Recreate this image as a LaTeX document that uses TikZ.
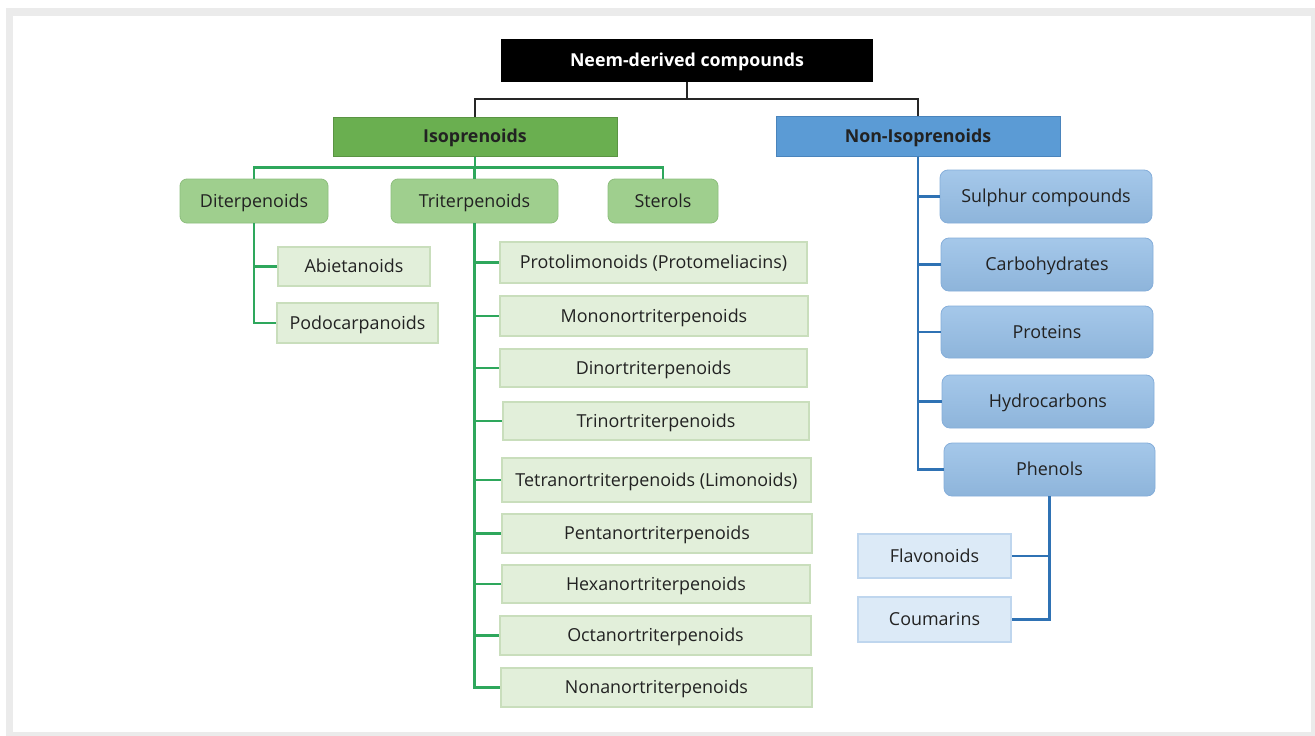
\documentclass[tikz,border=0pt]{standalone}
\usepackage{fontspec}
\setmainfont{Open Sans}
\definecolor{frame}{HTML}{EBEBEB}
\definecolor{txt}{HTML}{222222}
\definecolor{isofill}{HTML}{6AAF50}
\definecolor{isodraw}{HTML}{5A9443}
\definecolor{nonfill}{HTML}{5B9BD5}
\definecolor{nondraw}{HTML}{4A84BC}
\definecolor{gmid}{HTML}{9FCF8E}
\definecolor{gmiddraw}{HTML}{8DBE7D}
\definecolor{glight}{HTML}{E2EFDA}
\definecolor{glightdraw}{HTML}{C9DEBC}
\definecolor{bmid}{HTML}{95BEE6}
\definecolor{bmiddraw}{HTML}{85AEDA}
\definecolor{blight}{HTML}{DCEAF7}
\definecolor{blightdraw}{HTML}{BFD6EE}
\definecolor{gline}{HTML}{2EA75C}
\definecolor{bline}{HTML}{2F72B4}
\begin{document}
\begin{tikzpicture}[x=1pt,y=-1pt,
  base/.style={inner sep=0pt, text height=13pt, text depth=1pt, font=\fontsize{17.9}{20}\selectfont, text=txt},
  topbox/.style={base, fill=black, text=white, font=\fontsize{17.8}{20}\selectfont\bfseries},
  isobox/.style={base, fill=isofill, draw=isodraw, line width=1pt, font=\fontsize{17.8}{20}\selectfont\bfseries},
  nonbox/.style={base, fill=nonfill, draw=nondraw, line width=1pt, font=\fontsize{17.8}{20}\selectfont\bfseries},
  gmidbox/.style={base, fill=gmid, draw=gmiddraw, line width=0.8pt, rounded corners=7pt},
  glightbox/.style={base, fill=glight, draw=glightdraw, line width=1.2pt},
  bmidbox/.style={base, top color=bmid!85!white, bottom color=bmid!95!black, draw=bmiddraw, line width=0.8pt, rounded corners=8pt},
  blightbox/.style={base, fill=blight, draw=blightdraw, line width=1.2pt},
  kline/.style={line width=2.4pt, draw=black!85},
  gconn/.style={line width=2.4pt, draw=gline},
  bconn/.style={line width=2.4pt, draw=bline}
]
\useasboundingbox (0,0) rectangle (1315,736);
\fill[frame] (6,8) rectangle (1315,736);
\fill[white] (13,16) rectangle (1311,732);

% nodes
\node[topbox, minimum width=372pt, minimum height=43pt] (top) at (687,60.5) {Neem-derived compounds};
\node[isobox, minimum width=284pt, minimum height=39pt] (iso) at (475,136.5) {Isoprenoids};
\node[nonbox, minimum width=284pt, minimum height=40pt] (non) at (918,136) {Non-Isoprenoids};

\node[gmidbox, minimum width=148pt, minimum height=44pt] (dit) at (254,201) {Diterpenoids};
\node[gmidbox, minimum width=167pt, minimum height=44pt] (tri) at (474.5,201) {Triterpenoids};
\node[gmidbox, minimum width=110pt, minimum height=44pt] (ste) at (663,201) {Sterols};

\node[glightbox, minimum width=152pt, minimum height=39pt] (abi) at (354,266.5) {Abietanoids};
\node[glightbox, minimum width=161pt, minimum height=40pt] (pod) at (357.5,323) {Podocarpanoids};

\node[glightbox, minimum width=307pt, minimum height=41pt] (p1) at (653.5,262.5) {Protolimonoids (Protomeliacins)};
\node[glightbox, minimum width=308pt, minimum height=40pt] (p2) at (654,316) {Mononortriterpenoids};
\node[glightbox, minimum width=307pt, minimum height=38pt] (p3) at (653.5,368) {Dinortriterpenoids};
\node[glightbox, minimum width=306pt, minimum height=38pt] (p4) at (656,421) {Trinortriterpenoids};
\node[glightbox, minimum width=309pt, minimum height=44pt] (p5) at (656.5,480) {Tetranortriterpenoids (Limonoids)};
\node[glightbox, minimum width=310pt, minimum height=39pt] (p6) at (657,533.5) {Pentanortriterpenoids};
\node[glightbox, minimum width=308pt, minimum height=38pt] (p7) at (656,584) {Hexanortriterpenoids};
\node[glightbox, minimum width=311pt, minimum height=39pt] (p8) at (655.5,635.5) {Octanortriterpenoids};
\node[glightbox, minimum width=311pt, minimum height=39pt] (p9) at (656.5,687.5) {Nonanortriterpenoids};

\node[bmidbox, minimum width=212pt, minimum height=53pt] (s1) at (1046,196.5) {Sulphur compounds};
\node[bmidbox, minimum width=212pt, minimum height=53pt] (s2) at (1047,264.5) {Carbohydrates};
\node[bmidbox, minimum width=212pt, minimum height=52pt] (s3) at (1047,332) {Proteins};
\node[bmidbox, minimum width=212pt, minimum height=53pt] (s4) at (1048,401.5) {Hydrocarbons};
\node[bmidbox, minimum width=211pt, minimum height=53pt] (s5) at (1049.5,469.5) {Phenols};

\node[blightbox, minimum width=153pt, minimum height=44pt] (fla) at (934.5,556) {Flavonoids};
\node[blightbox, minimum width=153pt, minimum height=45pt] (cou) at (934.5,619.5) {Coumarins};

% connectors
\draw[kline] (top.south) -- ++(0,17) -| (iso.north);
\draw[kline] (top.south) -- ++(0,17) -| (non.north);

\draw[gconn] (iso.south) -- ++(0,11) -| (dit.north);
\draw[gconn] (iso.south) -- ++(0,11) -| (tri.north);
\draw[gconn] (iso.south) -- ++(0,11) -| (ste.north);

\foreach \n in {abi,pod} \draw[gconn] (dit.south) |- (\n.west);
\foreach \n in {p1,p2,p3,p4,p5,p6,p7,p8,p9} \draw[gconn] (tri.south) |- (\n.west);

\foreach \n in {s1,s2,s3,s4,s5} \draw[bconn] (non.south) |- (\n.west);
\foreach \n in {fla,cou} \draw[bconn] (s5.south) |- (\n.east);
\end{tikzpicture}
\end{document}
